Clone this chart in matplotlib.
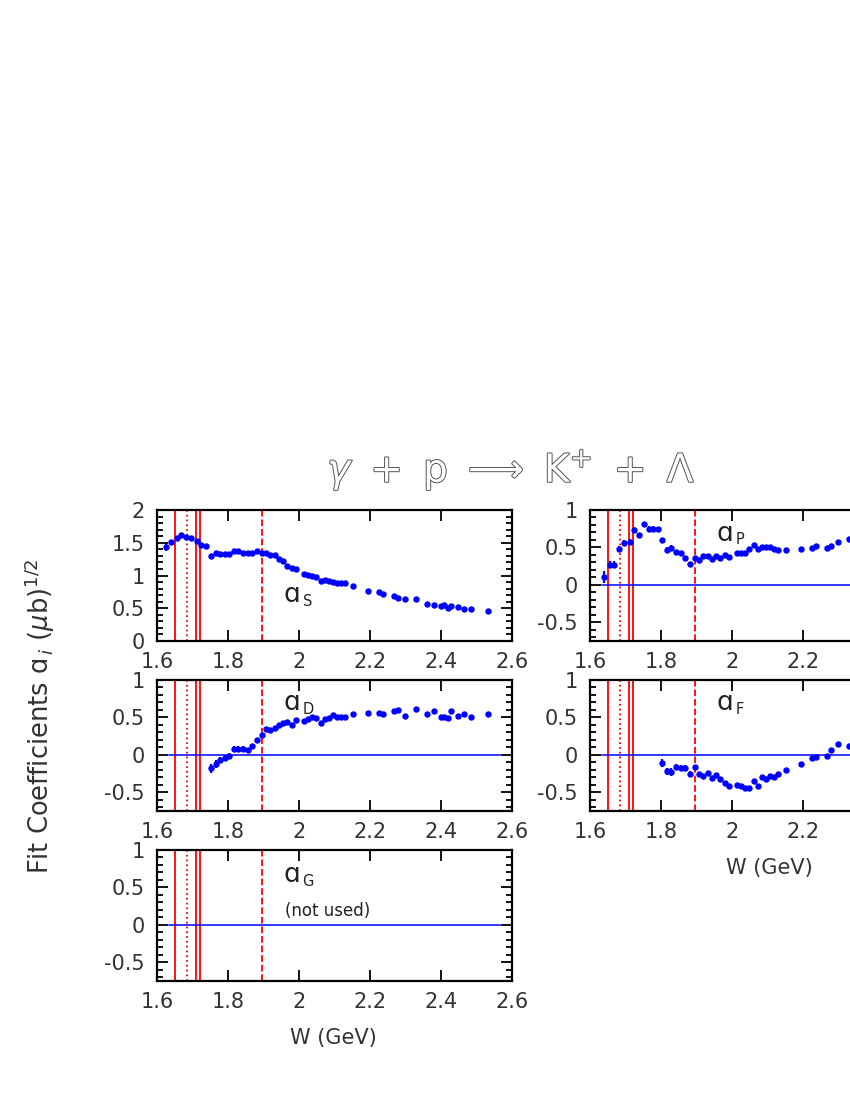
import numpy as np
import matplotlib
matplotlib.use("Agg")
import matplotlib.pyplot as plt
import matplotlib.patheffects as pe
from matplotlib.ticker import MultipleLocator, FormatStrFormatter, FuncFormatter

plt.rcParams['font.family'] = ['DejaVu Sans']
plt.rcParams['axes.unicode_minus'] = True

# energy bins (GeV), common to all panels
W = [1.626, 1.640, 1.655, 1.669, 1.683, 1.697, 1.712, 1.725, 1.739, 1.752,
     1.765, 1.778, 1.792, 1.804, 1.817, 1.829, 1.843, 1.856, 1.869, 1.881,
     1.895, 1.906, 1.917, 1.931, 1.943, 1.955, 1.967, 1.980, 1.991, 2.014,
     2.026, 2.038, 2.049, 2.061, 2.073, 2.085, 2.096, 2.108, 2.118, 2.129,
     2.152, 2.195, 2.225, 2.238, 2.268, 2.278, 2.300, 2.330, 2.360, 2.380,
     2.400, 2.409, 2.419, 2.428, 2.447, 2.466, 2.484, 2.532]

aS = [1.43, 1.51, 1.57, 1.625, 1.585, 1.57, 1.53, 1.46, 1.45, 1.30,
      1.35, 1.33, 1.33, 1.33, 1.38, 1.37, 1.35, 1.35, 1.35, 1.38,
      1.34, 1.34, 1.31, 1.31, 1.25, 1.22, 1.15, 1.12, 1.10, 1.03,
      1.01, 1.00, 0.97, 0.92, 0.93, 0.92, 0.90, 0.89, 0.89, 0.88,
      0.84, 0.77, 0.75, 0.71, 0.68, 0.66, 0.64, 0.64, 0.57, 0.55,
      0.54, 0.55, 0.50, 0.54, 0.52, 0.49, 0.49, 0.46]
aS_err = [0.05, 0.03] + [0.015] * 56
aS_start = 0

aP = [0.11, 0.27, 0.27, 0.48, 0.56, 0.57, 0.73, 0.66, 0.81, 0.75,
      0.75, 0.74, 0.60, 0.46, 0.49, 0.44, 0.42, 0.36, 0.28, 0.36,
      0.33, 0.38, 0.38, 0.35, 0.39, 0.36, 0.40, 0.37, 0.43, 0.42,
      0.42, 0.48, 0.53, 0.48, 0.51, 0.51, 0.51, 0.48, 0.47, 0.47,
      0.48, 0.49, 0.52, 0.49, 0.52, 0.57, 0.61]
aP_err = [0.08, 0.05, 0.05, 0.04, 0.04, 0.04, 0.04, 0.03, 0.03, 0.03,
          0.03, 0.03, 0.03, 0.04, 0.04, 0.03, 0.03, 0.03, 0.03] + [0.02] * 28
aP_start = 1

aD = [-0.18, -0.12, -0.075, -0.044, -0.013, 0.075, 0.075, 0.075, 0.066, 0.115,
      0.20, 0.26, 0.35, 0.33, 0.36, 0.40, 0.43, 0.44, 0.40, 0.47,
      0.45, 0.48, 0.51, 0.49, 0.43, 0.48, 0.49, 0.53, 0.50, 0.51,
      0.51, 0.54, 0.56, 0.56, 0.55, 0.59, 0.60, 0.52, 0.61, 0.55,
      0.59, 0.51, 0.51, 0.49, 0.58, 0.52, 0.55, 0.50, 0.54]
aD_err = [0.06, 0.05, 0.04, 0.04, 0.04, 0.04, 0.04, 0.04, 0.03, 0.03] + [0.02] * 39
aD_start = 9

aF = [-0.11, -0.22, -0.23, -0.16, -0.18, -0.17, -0.25, -0.16, -0.25, -0.28,
      -0.24, -0.31, -0.27, -0.32, -0.37, -0.41, -0.40, -0.42, -0.44, -0.44,
      -0.35, -0.41, -0.30, -0.32, -0.28, -0.30, -0.26, -0.20, -0.12, -0.04,
      -0.03, -0.01, 0.07, 0.14, 0.12]
aF_err = [0.05, 0.05, 0.05, 0.04, 0.04, 0.04, 0.04, 0.03] + [0.02] * 27
aF_start = 13

# resonance markers (GeV)
res_W = [1.65, 1.685, 1.71, 1.72, 1.897]
res_ls = ['-', ':', '-', '-', '--']

fig = plt.figure(figsize=(8.5, 11), dpi=100)

# axes boxes in figure fraction (right column runs off the page)
colx = [157 / 850, 590 / 850]
aw = 355 / 850
rows = [(1100 - 641) / 1100, (1100 - 811) / 1100, (1100 - 981) / 1100]
ah = 131 / 1100

panels = [
    (0, 0, aS, aS_err, aS_start, 'S', (0, 2), 0.59),
    (1, 0, aP, aP_err, aP_start, 'P', (-0.75, 1), 0.59),
    (0, 1, aD, aD_err, aD_start, 'D', (-0.75, 1), 0.60),
    (1, 1, aF, aF_err, aF_start, 'F', (-0.75, 1), 0.60),
    (0, 2, None, None, 0, 'G', (-0.75, 1), 0.57),
]

# right column: labels past the page edge are dropped
right_fmt = FuncFormatter(lambda v, p: '%g' % round(v, 2) if v < 2.3 else '')

for col, row, vals, errs, start, sub, ylim, ylab in panels:
    ax = fig.add_axes([colx[col], rows[row], aw, ah])
    ax.set_xlim(1.6, 2.6)
    ax.set_ylim(*ylim)
    for s in ax.spines.values():
        s.set_linewidth(1.6)
    ax.xaxis.set_major_locator(MultipleLocator(0.2))
    ax.yaxis.set_major_locator(MultipleLocator(0.5))
    ax.yaxis.set_minor_locator(MultipleLocator(0.1))
    if col == 1:
        ax.xaxis.set_major_formatter(right_fmt)
    else:
        ax.xaxis.set_major_formatter(FormatStrFormatter('%g'))
    ax.yaxis.set_major_formatter(FormatStrFormatter('%g'))
    ax.tick_params(which='both', direction='in', top=True, right=True,
                   width=1.3, labelsize=15, colors='black')
    ax.tick_params(which='major', length=8)
    ax.tick_params(which='minor', length=4)
    ax.tick_params(axis='x', pad=8)
    ax.tick_params(axis='y', pad=9)
    for lbl in ax.get_xticklabels() + ax.get_yticklabels():
        lbl.set_color('#333333')

    for rw, ls in zip(res_W, res_ls):
        ax.axvline(rw, color='red', lw=1.3, ls=ls)
    if ylim[0] < 0:
        ax.axhline(0, xmin=0.035, xmax=0.965, color='blue', lw=1.1)

    if vals is not None:
        ww = W[start:start + len(vals)]
        ax.errorbar(ww, vals, yerr=errs, fmt='o', color='blue', ms=3.6,
                    elinewidth=1.6, capsize=0, zorder=5)

    ax.text(1.955, ylab, 'ɑ', fontsize=19, color='#222222', va='baseline')
    ax.text(2.010, ylab - 0.05 * (ylim[1] - ylim[0]) / 1.75, sub,
            fontsize=10.5, color='#222222', va='baseline')
    if sub == 'G':
        ax.text(1.96, 0.19, '(not used)', fontsize=12, color='#222222',
                va='center')

title = r'$\gamma\ +\ \mathrm{p}\ \longrightarrow\ \mathrm{K}^{+}\ +\ \Lambda$'
fig.text(511 / 850, 1 - 470 / 1100, title,
         fontsize=28, ha='center', va='center', color='white',
         path_effects=[pe.withStroke(linewidth=1.4, foreground='#555555')])
fig.text(40 / 850, 1 - 716 / 1100,
         r'Fit Coefficients ɑ$_{\,i}$ ($\mu$b)$^{1/2}$',
         fontsize=18.5, rotation=90, ha='center', va='center', color='#333333')
fig.text(333 / 850, 1 - 1038 / 1100, 'W (GeV)', fontsize=15,
         ha='center', va='center', color='#333333')
fig.text(769 / 850, 1 - 868 / 1100, 'W (GeV)', fontsize=15,
         ha='center', va='center', color='#333333')

fig.savefig('out.png', dpi=100)
